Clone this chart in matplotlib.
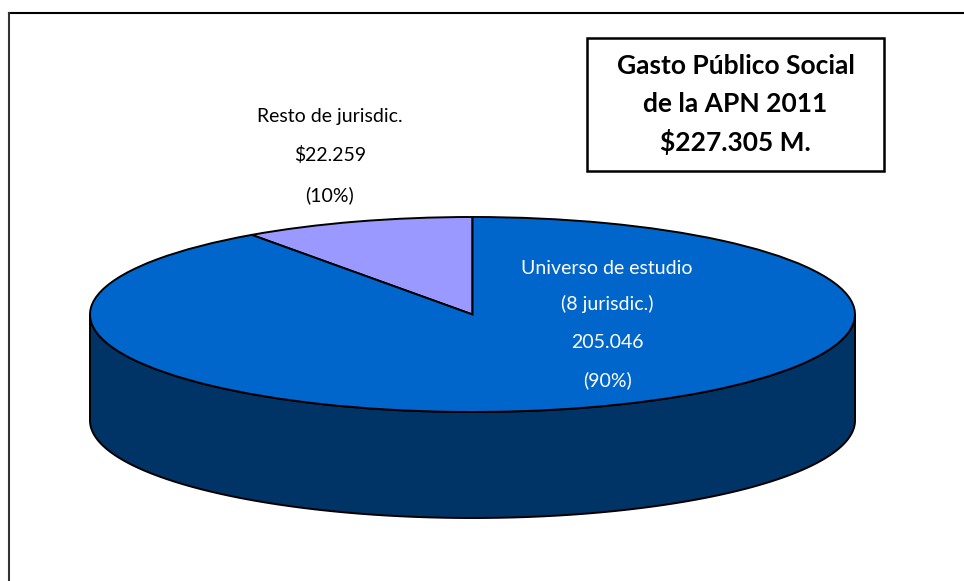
import numpy as np
import matplotlib.pyplot as plt
from matplotlib.lines import Line2D
from matplotlib.patches import Rectangle

plt.rcParams['font.family'] = ['Lato', 'DejaVu Sans']

# Data (millones de $)
names = ['Resto de jurisdic.', 'Universo de estudio']
subnames = ['', '(8 jurisdic.)']
values = [22259, 205046]
top_colors = ['#9999FF', '#0066CC']
side_colors = ['#4D4D80', '#003366']
title_lines = ['Gasto Público Social', 'de la APN 2011']

W, H = 964, 581


def miles(v):
    return f"{v:,}".replace(',', '.')


def fx(px):
    return px / W


def fy(py):
    return 1 - py / H


fig = plt.figure(figsize=(W / 100, H / 100), dpi=100)
fig.patch.set_facecolor('white')

# pie geometry in pixels: center, semi-axes, depth
cx, cy, a, b, depth = 472.5, 314.5, 382.5, 97.5, 106
D = depth / b

ax = fig.add_axes([0, 0, 1, 1])

# side of the cylinder (front half only)
total = sum(values)
start = 90.0
angles = []
for v in values:
    sweep = 360.0 * v / total
    angles.append((start, start + sweep))
    start += sweep

for (t1, t2), col in zip(angles, side_colors):
    for k in (-360, 0, 360):
        lo = max(t1 + k, 180)
        hi = min(t2 + k, 360)
        if hi > lo:
            t = np.radians(np.linspace(lo, hi, 300))
            xs = np.concatenate([np.cos(t), np.cos(t[::-1])])
            ys = np.concatenate([np.sin(t), np.sin(t[::-1]) - D])
            ax.fill(xs, ys, facecolor=col, edgecolor='black', lw=1.4, zorder=1)

# top face
ax.pie(values, startangle=90, counterclock=True, colors=top_colors,
       wedgeprops=dict(edgecolor='black', linewidth=1.4), radius=1,
       center=(0, 0), frame=False)
for p in ax.patches:
    p.set_zorder(2)

ax.set_aspect('auto')
ax.set_xlim((0 - cx) / a, (W - cx) / a)
ax.set_ylim((cy - H) / b, cy / b)
ax.axis('off')

# labels
pct = [round(100 * v / total) for v in values]
resto_lines = [names[0], '$' + miles(values[0]), f'({pct[0]}%)']
for txt, py in zip(resto_lines, [117, 155, 195]):
    fig.text(fx(330), fy(py), txt, ha='center', va='center',
             fontsize=14, color='black')

univ_lines = [names[1], subnames[1], miles(values[1]), f'({pct[1]}%)']
for txt, py in zip(univ_lines, [268, 304, 342, 380]):
    fig.text(fx(607), fy(py), txt, ha='center', va='center',
             fontsize=14, color='white')

# title box
fig.add_artist(Rectangle((fx(587), fy(171)), (884 - 587) / W, (171 - 38) / H,
                         fill=False, edgecolor='black', lw=1.8,
                         transform=fig.transFigure))
box_lines = title_lines + ['$' + miles(total) + ' M.']
for txt, py in zip(box_lines, [66, 104, 142]):
    fig.text(fx(735.5), fy(py), txt, ha='center', va='center',
             fontsize=19, fontweight='bold', color='black')

# outer frame (top and left)
fig.add_artist(Line2D([fx(9), 1], [fy(13), fy(13)], color='black', lw=1.5))
fig.add_artist(Line2D([fx(9), fx(9)], [fy(13), 0], color='#333333', lw=1.5))

fig.savefig('out.png', dpi=100, facecolor='white')
